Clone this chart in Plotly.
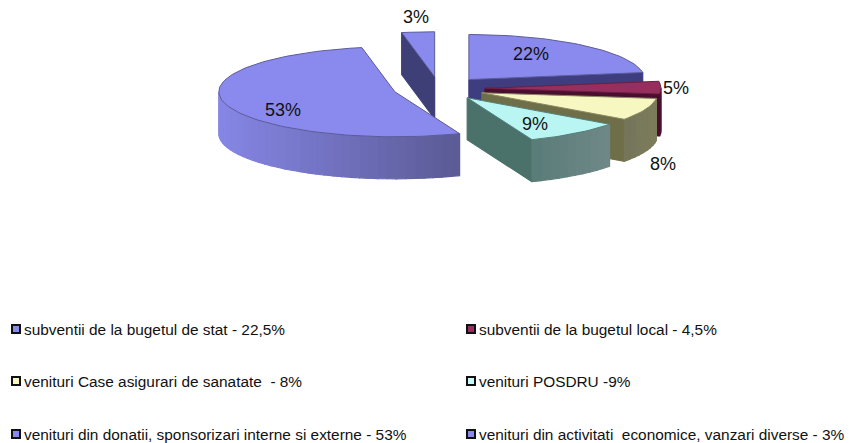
import math
import plotly.graph_objects as go

# --- data -------------------------------------------------------------
categories = [
    "subventii de la bugetul de stat - 22,5%",
    "subventii de la bugetul local - 4,5%",
    "venituri Case asigurari de sanatate  - 8%",
    "venituri POSDRU -9%",
    "venituri din donatii, sponsorizari interne si externe - 53%",
    "venituri din activitati  economice, vanzari diverse - 3%",
]
values = [22.5, 4.5, 8, 9, 53, 3]
pct_labels = ["22%", "5%", "8%", "9%", "53%", "3%"]

# --- style / layout ---------------------------------------------------
top_colors = ["#8a8aee", "#962f5e", "#f7f7c2", "#b9f5f3", "#8a8aee", "#8a8aee"]
cut_colors = ["#3d3d80", "#4a0f2e", "#6e6e48", "#4a716a", "#3d3d80", "#3f3f78"]
side_left = ["#5c5c98", "#5a1838", "#74745a", "#5a7c78", "#8686e6", "#5c5c98"]
side_right = ["#3d3d80", "#2a0518", "#7d7d5c", "#6f8888", "#5a5a94", "#3d3d80"]
legend_colors = ["#8a8aee", "#962f5e", "#f7f7c2", "#c8f8f8", "#8a8aee", "#8a8aee"]
edge_colors = ["#5c5c9a", "#6a2040", "#8a8a66", "#55807a", "#5c5c9a", "#5c5c9a"]
label_xy = [(531, 54), (676, 88), (663, 164), (535, 124), (283, 110), (416, 17)]

CX, CY, RX, RY, DEPTH, PULL = 439, 88.5, 176, 45, 42, 46
FONT = "Liberation Sans, Arial, sans-serif"


def hex_mix(a, b, t):
    ca = [int(a[i:i + 2], 16) for i in (1, 3, 5)]
    cb = [int(b[i:i + 2], 16) for i in (1, 3, 5)]
    return "rgb(%d,%d,%d)" % tuple(round(p + (q - p) * t) for p, q in zip(ca, cb))


def rim(apex, deg):
    r = math.radians(deg)
    return apex[0] + RX * math.sin(r), apex[1] - RY * math.cos(r)


def poly(pts, fill, line=None, width=0):
    xs = [p[0] for p in pts] + [pts[0][0]]
    ys = [p[1] for p in pts] + [pts[0][1]]
    return go.Scatter(
        x=xs, y=ys, mode="lines", fill="toself", fillcolor=fill,
        line=dict(color=line or fill, width=width if line else 1.2),
        hoverinfo="skip", showlegend=False,
    )


total = sum(values)
slices = []
acc = 0
for i, v in enumerate(values):
    a0 = acc / total * 360
    acc += v
    a1 = acc / total * 360
    mid = math.radians((a0 + a1) / 2)
    apex = (CX + PULL * math.sin(mid), CY - PULL * RY / RX * math.cos(mid))
    slices.append((i, a0, a1, apex))

fig = go.Figure()
draw_order = [0, 5, 1, 2, 3, 4]
for i, a0, a1, apex in (slices[k] for k in draw_order):
    down = lambda p: (p[0], p[1] + DEPTH)
    # flat cut faces that look towards the viewer
    if a1 < 180:
        p = rim(apex, a1)
        fig.add_trace(poly([apex, p, down(p), down(apex)], cut_colors[i]))
    if a0 > 180:
        p = rim(apex, a0)
        fig.add_trace(poly([apex, p, down(p), down(apex)], cut_colors[i]))
    # outer wall, only the front half of the ellipse is visible
    w0, w1 = max(a0, 90), min(a1, 270)
    if w1 > w0:
        n = max(2, int((w1 - w0) / 3))
        xl = rim(apex, w1)[0]
        xr = rim(apex, w0)[0]
        lo, hi = min(xl, xr), max(xl, xr)
        for k in range(n):
            d0 = w0 + (w1 - w0) * k / n
            d1 = w0 + (w1 - w0) * (k + 1) / n
            p0, p1 = rim(apex, d0), rim(apex, d1)
            t = ((p0[0] + p1[0]) / 2 - lo) / max(hi - lo, 1)
            fig.add_trace(poly([p0, p1, down(p1), down(p0)],
                               hex_mix(side_left[i], side_right[i], t)))
    # top face
    steps = max(2, int((a1 - a0) / 2))
    arc = [rim(apex, a0 + (a1 - a0) * k / steps) for k in range(steps + 1)]
    fig.add_trace(poly([apex] + arc, top_colors[i], edge_colors[i], 1))

annotations = [
    dict(x=x, y=y, text=t, showarrow=False, xanchor="center", yanchor="middle",
         font=dict(family=FONT, size=18, color="#111111"))
    for t, (x, y) in zip(pct_labels, label_xy)
]

# legend: two columns, three rows
col_x = [16, 471]
row_y = [329, 381, 434]
for i, name in enumerate(categories):
    lx, ly = col_x[i % 2], row_y[i // 2]
    fig.add_trace(go.Scatter(
        x=[lx], y=[ly], mode="markers", showlegend=False, hoverinfo="skip",
        marker=dict(symbol="square", size=8, color=legend_colors[i],
                    line=dict(color="#111111", width=2)),
    ))
    annotations.append(dict(
        x=lx + 6, y=ly, text=name, showarrow=False, xanchor="left", yanchor="middle",
        font=dict(family=FONT, size=15.4, color="#111111"),
    ))

fig.update_layout(
    width=849, height=443, autosize=False,
    margin=dict(l=0, r=0, t=0, b=0),
    paper_bgcolor="white", plot_bgcolor="white",
    xaxis=dict(range=[0, 849], visible=False, fixedrange=True),
    yaxis=dict(range=[443, 0], visible=False, fixedrange=True),
    annotations=annotations, showlegend=False,
)
fig.write_html("out.html", config={"displayModeBar": False},
               post_script="document.body.style.margin='0';")
